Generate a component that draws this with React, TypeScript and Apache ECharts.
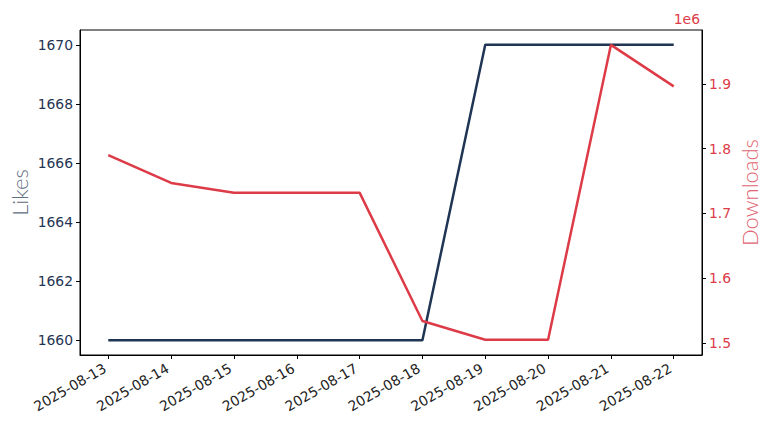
import React, { useEffect, useRef } from "react";
import * as echarts from "echarts";

const dates = [
  "2025-08-13", "2025-08-14", "2025-08-15", "2025-08-16", "2025-08-17",
  "2025-08-18", "2025-08-19", "2025-08-20", "2025-08-21", "2025-08-22",
];
const likes = [1660, 1660, 1660, 1660, 1660, 1660, 1670, 1670, 1670, 1670];
const downloads = [1790000, 1747000, 1732000, 1732000, 1732000, 1534000, 1505000, 1505000, 1960000, 1896000];
const likesTicks = [1660, 1662, 1664, 1666, 1668, 1670];
const downloadTicks = [1500000, 1600000, 1700000, 1800000, 1900000];

const NAVY = "#1f3553";
const RED = "#dc3b47";
const FONT = "DejaVu Sans";
const TICK_FS = 13.9;

export default function App() {
  const ref = useRef<HTMLDivElement>(null);
  useEffect(() => {
    const chart = echarts.init(ref.current!, null, { renderer: "svg" });
    const idx = dates.map((_, i) => i);
    chart.setOption({
      animation: false,
      textStyle: { fontFamily: FONT },
      grid: {
        left: 80, right: 66, top: 30, bottom: 77,
        show: true, borderColor: "#000", borderWidth: 1, backgroundColor: "transparent",
        containLabel: false, outerBoundsMode: "none",
      },
      xAxis: {
        type: "value",
        min: -0.45,
        max: 9.45,
        splitLine: { show: false },
        axisLine: { show: true, onZero: false, lineStyle: { color: "#000" } },
        axisTick: { show: true, customValues: idx, length: 4, lineStyle: { color: "#000" } },
        axisLabel: {
          customValues: idx,
          rotate: 30,
          fontSize: TICK_FS,
          color: "#222",
          margin: 10,
          padding: [0, 4, 0, 0],
          formatter: (v: number) => dates[Math.round(v)] ?? "",
        },
      },
      yAxis: [
        {
          type: "value",
          position: "left",
          min: 1659.5,
          max: 1670.5,
          name: "Likes",
          nameLocation: "middle",
          nameRotate: 90,
          nameGap: 50,
          nameMoveOverlap: false,
          nameTextStyle: { color: "#5f6d82", fontSize: 22, fontFamily: "Lato", fontWeight: 300 },
          splitLine: { show: false },
          axisLine: { show: true, onZero: false, lineStyle: { color: "#000" } },
          axisTick: { show: true, customValues: likesTicks, length: 4, lineStyle: { color: "#000" } },
          axisLabel: { customValues: likesTicks, color: NAVY, fontSize: TICK_FS, margin: 7, formatter: (v: number) => String(v) },
        },
        {
          type: "value",
          position: "right",
          min: 1481500,
          max: 1983000,
          name: "Downloads",
          nameLocation: "middle",
          nameRotate: 90,
          nameGap: 36,
          nameMoveOverlap: false,
          nameTextStyle: { color: "#e06470", fontSize: 22, fontFamily: "Lato", fontWeight: 300 },
          splitLine: { show: false },
          axisLine: { show: true, onZero: false, lineStyle: { color: "#000" } },
          axisTick: { show: true, customValues: downloadTicks, length: 4, lineStyle: { color: "#000" } },
          axisLabel: {
            customValues: downloadTicks,
            color: RED,
            fontSize: TICK_FS,
            margin: 7,
            formatter: (v: number) => (v / 1e6).toFixed(1),
          },
        },
      ],
      graphic: [
        {
          type: "text",
          right: 68,
          top: 12,
          style: { text: "1e6", fill: RED, font: `${TICK_FS}px ${FONT}` },
        },
      ],
      series: [
        {
          type: "line",
          yAxisIndex: 0,
          data: likes.map((v, i) => [i, v]),
          showSymbol: false,
          lineStyle: { color: NAVY, width: 2.5 },
          itemStyle: { color: NAVY },
        },
        {
          type: "line",
          yAxisIndex: 1,
          data: downloads.map((v, i) => [i, v]),
          showSymbol: false,
          lineStyle: { color: RED, width: 2.5 },
          itemStyle: { color: RED },
        },
      ],
    });
    return () => chart.dispose();
  }, []);
  return <div ref={ref} style={{ width: 768, height: 432, margin: -8 }} />;
}
